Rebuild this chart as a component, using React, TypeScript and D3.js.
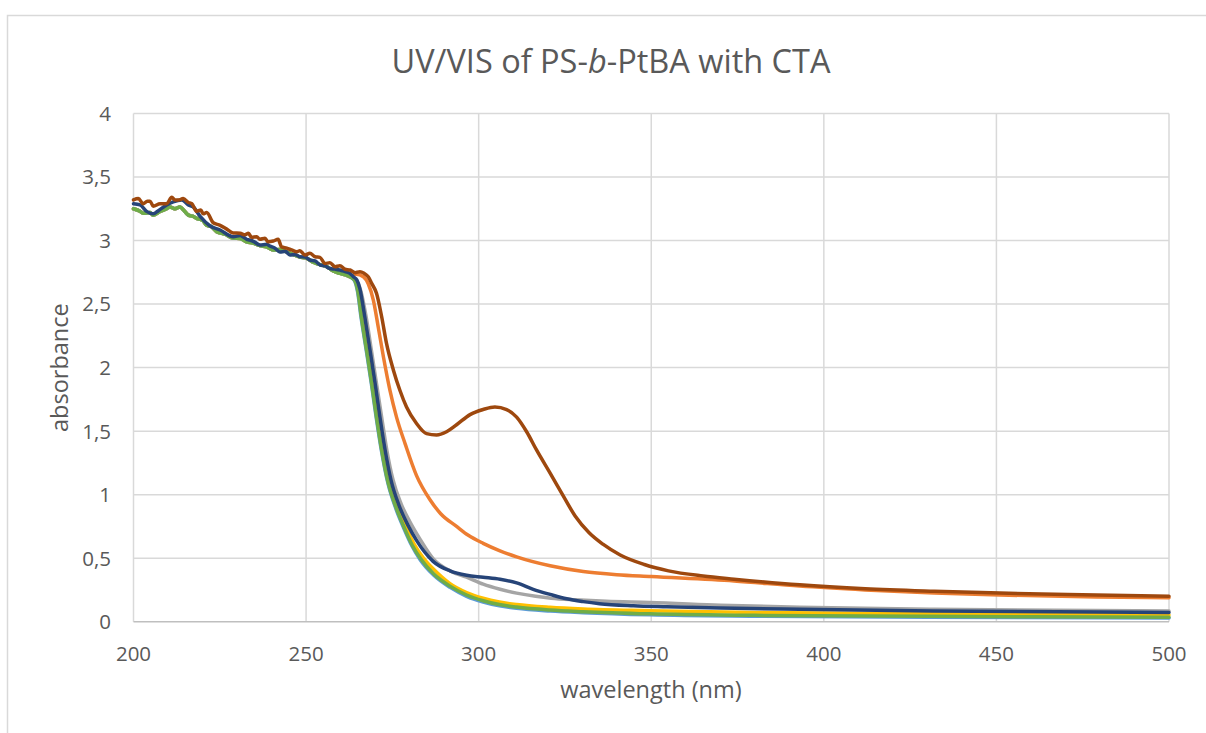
import React from 'react';
import * as d3 from 'd3';

// ---------- data ----------
const xTicks = [200, 250, 300, 350, 400, 450, 500];
const yTicks = [0, 0.5, 1, 1.5, 2, 2.5, 3, 3.5, 4];

// noisy common start shared by the lower group of spectra
const lowNoise: [number, number][] = [
  [200, 3.25], [201.9, 3.23], [202.8, 3.215], [204.8, 3.22], [205.7, 3.2], [207.7, 3.23],
  [209.6, 3.25], [210.5, 3.265], [212, 3.25], [213.5, 3.265], [214.5, 3.24], [215.9, 3.2],
  [217.3, 3.19], [218.3, 3.175], [220, 3.16], [221.2, 3.12], [222.5, 3.11], [224.1, 3.07],
  [226.5, 3.05], [228.9, 3.02], [230.9, 3.017], [232.8, 2.99], [234.7, 2.98], [236.6, 2.96],
  [238.6, 2.95], [240.5, 2.925], [242.4, 2.93], [244.4, 2.91], [246.3, 2.89], [248.2, 2.87],
  [250.2, 2.86], [252.1, 2.83], [254, 2.81], [256, 2.795], [257.9, 2.76], [259.8, 2.742],
  [261.5, 2.73], [262.7, 2.715],
];

const orangeTail: [number, number][] = [
  [264.5, 2.735], [266.6, 2.715], [268, 2.66], [269.5, 2.53], [270.9, 2.32], [272.4, 2.085],
  [274.3, 1.82], [276.2, 1.61], [278.7, 1.4], [282, 1.15], [285.9, 0.96], [289, 0.85],
  [293.6, 0.75], [297, 0.68], [301.3, 0.617], [306, 0.56], [311, 0.51], [320.7, 0.44],
  [330.3, 0.395], [340, 0.37], [350, 0.355], [374, 0.32], [393, 0.28], [412, 0.25],
  [432, 0.225], [451, 0.21], [479, 0.195], [500, 0.188],
];

const grayTail: [number, number][] = [
  [264, 2.7], [265.9, 2.6], [267.4, 2.4], [268.9, 2.14], [270.4, 1.875], [271.9, 1.61],
  [273.4, 1.35], [275.2, 1.115], [277.5, 0.93], [280, 0.79], [283, 0.65], [287, 0.49],
  [291.7, 0.4], [296.5, 0.35], [301.3, 0.295], [306.2, 0.255], [311, 0.225], [316.5, 0.2],
  [321, 0.185], [328, 0.172], [337, 0.16], [349.6, 0.152], [370, 0.13], [393, 0.113],
  [431.7, 0.098], [479, 0.088], [500, 0.085],
];

const yellowTail: [number, number][] = [
  [264.3, 2.69], [265.3, 2.6], [266.3, 2.4], [267.8, 2.14], [269.3, 1.875], [270.7, 1.61],
  [272.2, 1.35], [274.2, 1.09], [276.5, 0.9], [279, 0.74], [281.3, 0.61], [284, 0.5],
  [288, 0.385], [291.7, 0.3], [296.5, 0.23], [301.3, 0.185], [306, 0.155],
  [311, 0.135], [320.7, 0.113], [330.3, 0.1], [349.6, 0.087], [380, 0.072], [430, 0.062],
  [480, 0.055], [500, 0.052],
];

const lightBlueTail: [number, number][] = [
  [263.9, 2.69], [264.9, 2.6], [265.9, 2.4], [267.4, 2.14], [268.9, 1.875], [270.3, 1.61],
  [271.8, 1.35], [273.7, 1.09], [276, 0.89], [278.4, 0.73], [280.6, 0.6], [283, 0.49],
  [287, 0.365], [291.7, 0.27], [296.5, 0.2], [301.3, 0.155], [306, 0.125],
  [311, 0.105], [320.7, 0.084], [330.3, 0.071], [349.6, 0.054], [380, 0.043], [430, 0.036],
  [480, 0.031], [500, 0.03],
];

const greenTail: [number, number][] = [
  [264, 2.69], [265, 2.6], [266, 2.4], [267.5, 2.14], [269, 1.875], [270.4, 1.61],
  [271.9, 1.35], [273.8, 1.09], [276.2, 0.89], [278.6, 0.73], [280.8, 0.6], [283.2, 0.495],
  [287, 0.375], [291.7, 0.28], [296.5, 0.21], [301.3, 0.165], [306, 0.135],
  [311, 0.115], [320.7, 0.092], [330.3, 0.079], [349.6, 0.062], [380, 0.05], [430, 0.042],
  [480, 0.037], [500, 0.035],
];

const navyUV: [number, number][] = [
  [200, 3.29], [201.9, 3.28], [203.8, 3.23], [205.7, 3.21], [207.2, 3.235], [209.6, 3.28],
  [211.5, 3.305], [214, 3.32], [215.9, 3.28], [217.3, 3.265], [219.3, 3.19], [222.2, 3.115],
  [225.1, 3.083], [228.9, 3.03], [230.9, 3.04], [232.8, 3.01], [233.7, 3.004], [235, 2.99],
  [236.6, 2.965], [238.6, 2.97], [239.5, 2.957], [241, 2.94], [242.4, 2.91], [244, 2.915],
  [245.3, 2.886], [246.8, 2.89], [248.2, 2.873], [249.7, 2.87], [251.1, 2.847], [252.6, 2.84],
  [254, 2.808], [255.5, 2.8], [256.9, 2.78], [258.4, 2.775], [259.8, 2.768], [261.3, 2.755],
  [262.7, 2.742], [263.7, 2.715], [264.7, 2.69], [265.6, 2.62], [267, 2.4], [268.5, 2.14],
  [270, 1.875], [271.4, 1.61], [272.9, 1.35], [274.6, 1.115], [277, 0.91], [279.5, 0.76],
  [282, 0.64], [286.8, 0.475], [291.7, 0.4], [296.5, 0.365], [301.3, 0.35], [306.2, 0.334],
  [311, 0.305], [315.8, 0.255], [320.7, 0.215], [325.5, 0.18], [330.3, 0.158], [335, 0.142],
  [344.8, 0.126], [354.5, 0.118], [370, 0.108], [393, 0.098], [431.7, 0.085], [479, 0.076],
  [500, 0.073],
];

const brownUV: [number, number][] = [
  [200, 3.32], [201.4, 3.33], [202.8, 3.29], [204, 3.31], [204.8, 3.31], [205.7, 3.27],
  [207.7, 3.29], [209.6, 3.29], [211.1, 3.34], [212, 3.32], [213, 3.32], [214.4, 3.33],
  [215.9, 3.3], [216.9, 3.29], [218.3, 3.23], [219.5, 3.24], [220.2, 3.21], [221.2, 3.22],
  [223.1, 3.14], [225.1, 3.12], [227, 3.09], [228.9, 3.06], [230.9, 3.057], [232.3, 3.045],
  [233.3, 3.057], [234.2, 3.025], [235.7, 3.03], [236.6, 3.01], [238.1, 3.018], [239, 2.99],
  [240.5, 2.996], [241.9, 3.01], [242.9, 2.95], [244.4, 2.94], [245.8, 2.926], [247.3, 2.912],
  [248.2, 2.92], [249.7, 2.886], [251.1, 2.9], [252.6, 2.873], [254, 2.868], [255.5, 2.82],
  [256.9, 2.825], [258.4, 2.794], [259.8, 2.802], [261.3, 2.774], [262.7, 2.768], [264.2, 2.747],
  [265.6, 2.755], [266.8, 2.742], [268, 2.715], [269, 2.663], [270.4, 2.585], [271.9, 2.4],
  [273.3, 2.19], [275.3, 1.98], [277.2, 1.82], [279.1, 1.69], [282, 1.56], [284.9, 1.48],
  [287.8, 1.47], [290.7, 1.495], [293.6, 1.55], [297.5, 1.63], [301.3, 1.67], [304.7, 1.69],
  [308.1, 1.67], [311, 1.61], [313.9, 1.495], [316.8, 1.35], [320.7, 1.17], [324.5, 0.99],
  [328, 0.83], [332, 0.7], [336, 0.61], [341, 0.525], [348, 0.45], [355, 0.4], [365, 0.36],
  [374, 0.335], [393, 0.29], [412, 0.26], [432, 0.24], [451, 0.225], [479, 0.21], [500, 0.2],
];

const seriesData: [number, number][][] = [
  lowNoise.concat(orangeTail),
  lowNoise.concat(grayTail),
  lowNoise.concat(yellowTail),
  lowNoise.concat(lightBlueTail),
  lowNoise.concat(greenTail),
  navyUV,
  brownUV,
];
const seriesColors = ['#ED7D31', '#A5A5A5', '#FFC000', '#5B9BD5', '#70AD47', '#264478', '#9E480E'];

const FONT = "'Open Sans', 'Liberation Sans', sans-serif";
const TXT = '#595959';

export default function App() {
  const x = d3.scaleLinear().domain([200, 500]).range([133.5, 1169]);
  const y = d3.scaleLinear().domain([0, 4]).range([621.7, 113.5]);
  const line = d3
    .line<[number, number]>()
    .x((d) => x(d[0]))
    .y((d) => y(d[1]))
    .curve(d3.curveMonotoneX);
  const fmt = (v: number) => String(v).replace('.', ',');

  return (
    <svg
      width={1206}
      height={733}
      style={{ position: 'absolute', left: 0, top: 0, display: 'block', background: '#fff' }}
    >
      <rect x={0} y={0} width={1206} height={733} fill="#fff" />
      <rect x={7.5} y={15.5} width={1230} height={740} fill="#fff" stroke="#d9d9d9" strokeWidth={1.5} />

      {/* gridlines */}
      {yTicks.filter((t) => t > 0).map((t) => (
        <line key={'gy' + t} x1={x(200)} x2={x(500)} y1={y(t)} y2={y(t)} stroke="#d9d9d9" strokeWidth={1.5} />
      ))}
      {xTicks.map((t) => (
        <line key={'gx' + t} x1={x(t)} x2={x(t)} y1={y(4)} y2={y(0)} stroke="#d9d9d9" strokeWidth={1.5} />
      ))}
      <line x1={x(200)} x2={x(500)} y1={y(0)} y2={y(0)} stroke="#bfbfbf" strokeWidth={1.5} />

      {/* series */}
      {seriesData.map((d, i) => (
        <path
          key={'s' + i}
          d={line(d) || ''}
          fill="none"
          stroke={seriesColors[i]}
          strokeWidth={3.5}
          strokeLinejoin="round"
          strokeLinecap="round"
        />
      ))}

      {/* tick labels */}
      {yTicks.map((t) => (
        <text
          key={'ty' + t}
          x={111}
          y={y(t)}
          dy="0.36em"
          textAnchor="end"
          fontFamily={FONT}
          fontSize={20.5}
          fill={TXT}
        >
          {fmt(t)}
        </text>
      ))}
      {xTicks.map((t) => (
        <text
          key={'tx' + t}
          x={x(t)}
          y={661}
          textAnchor="middle"
          fontFamily={FONT}
          fontSize={20.5}
          fill={TXT}
        >
          {t}
        </text>
      ))}

      {/* axis titles */}
      <text x={651} y={698} textAnchor="middle" fontFamily={FONT} fontSize={23.5} fill={TXT}>
        wavelength (nm)
      </text>
      <text
        transform={`translate(68,${(y(0) + y(4)) / 2}) rotate(-90)`}
        textAnchor="middle"
        fontFamily={FONT}
        fontSize={23.5}
        fill={TXT}
      >
        absorbance
      </text>

      {/* title */}
      <text x={611} y={73} textAnchor="middle" fontFamily={FONT} fontSize={32.5} fill={TXT}>
        UV/VIS of PS-<tspan fontStyle="italic">b</tspan>-PtBA with CTA
      </text>
    </svg>
  );
}
